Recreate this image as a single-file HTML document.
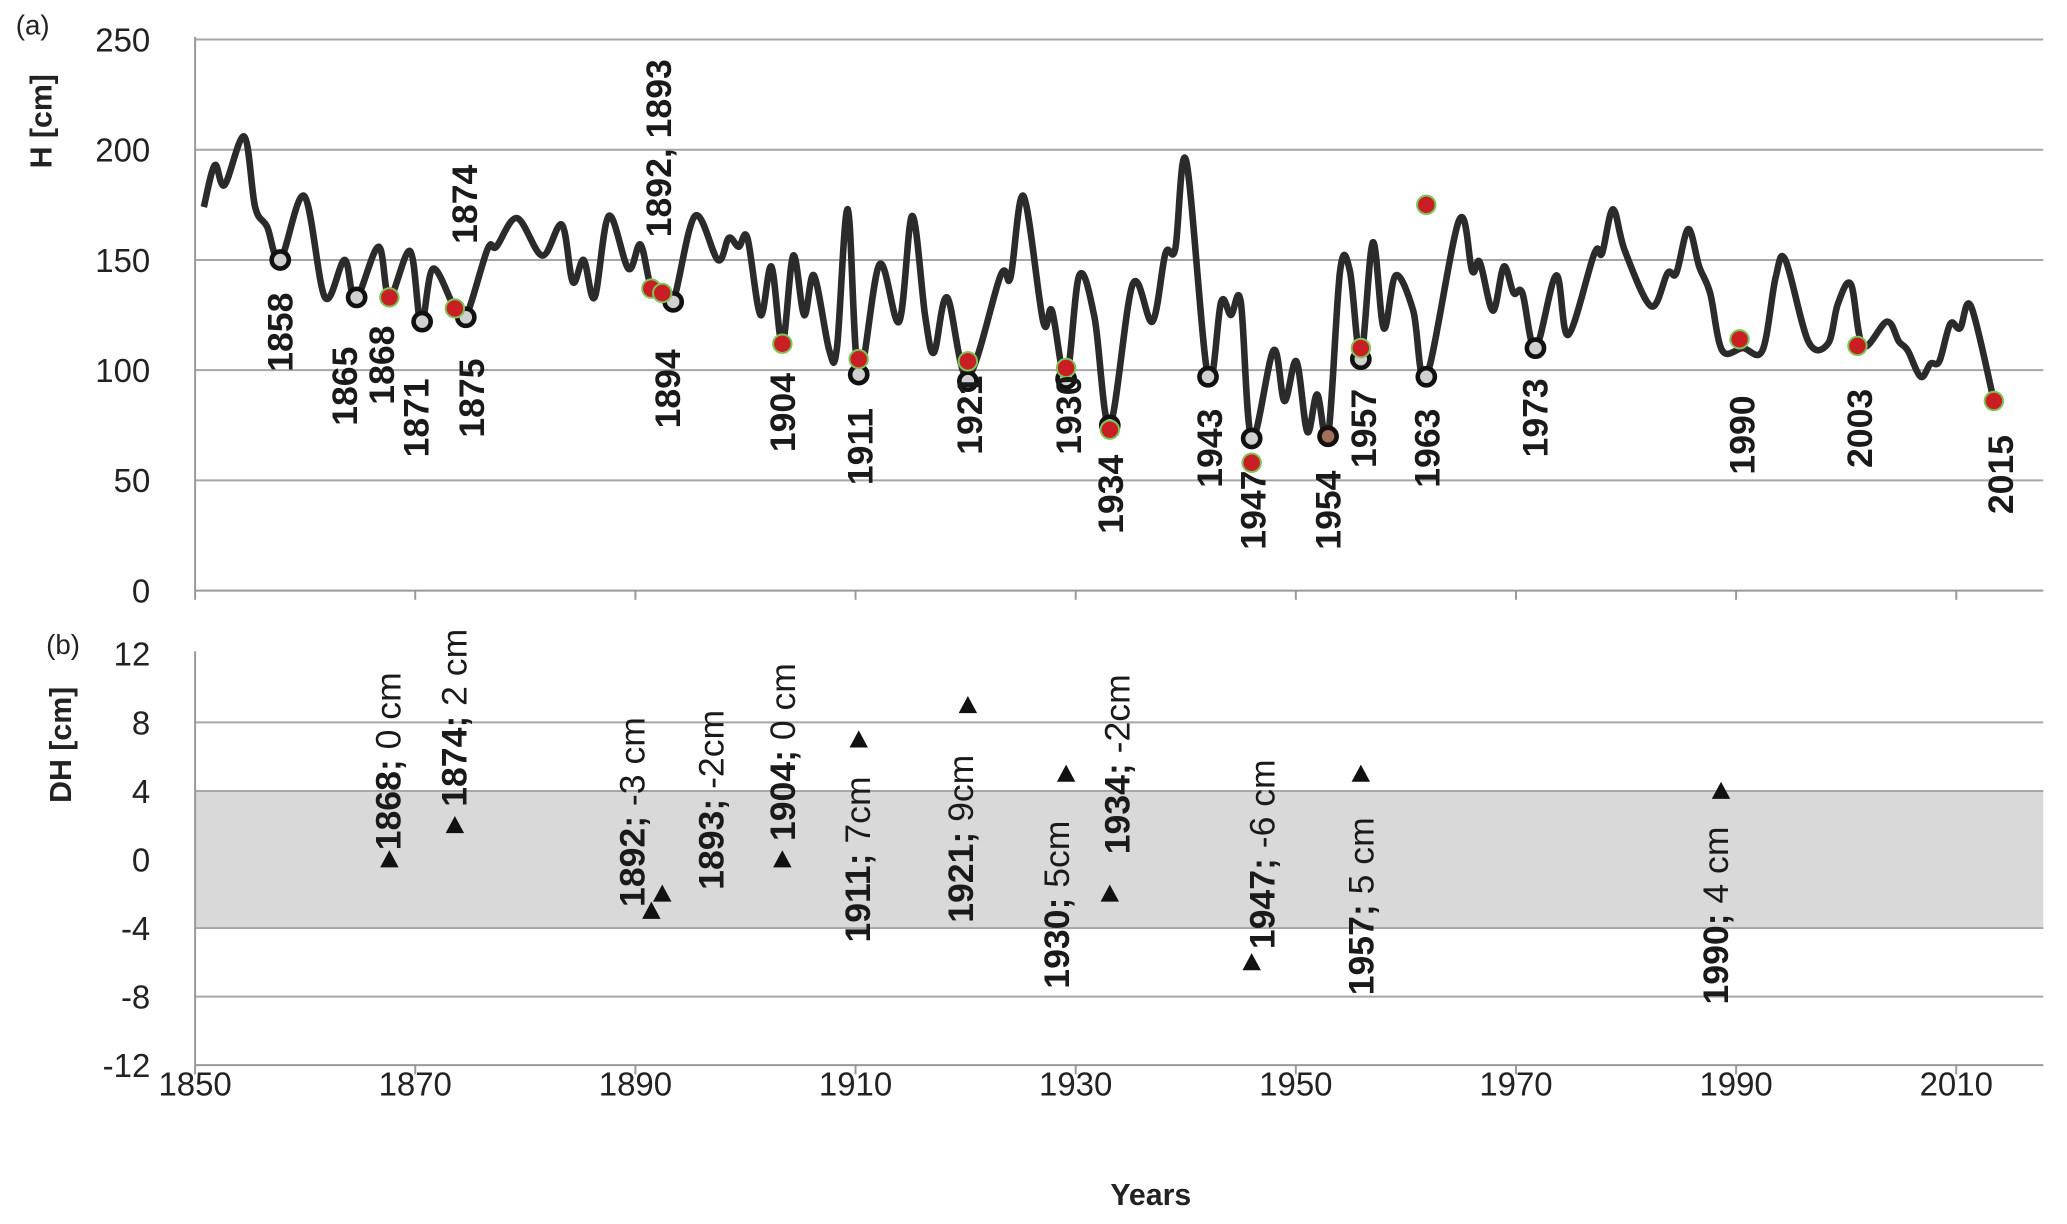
<!DOCTYPE html>
<html><head><meta charset="utf-8"><style>
html,body{margin:0;padding:0;background:#fff;}
svg{display:block;font-family:"Liberation Sans",sans-serif;}
</style></head><body>
<svg id="chart" width="2067" height="1224" viewBox="0 0 1568 928.5" preserveAspectRatio="none" xmlns="http://www.w3.org/2000/svg"></svg>
<script>
// ---- data ----
const lineYears = [1851,1852,1852.9,1854.7,1855.7,1856.8,1858,1860.2,1862.1,1863.9,1864.9,1867,1868,1869.9,1870.9,1872,1874,1875,1877,1877.8,1879.7,1882,1883.8,1884.8,1885.8,1886.8,1888.1,1889.9,1891,1892,1893,1894,1896,1898.1,1899.1,1900,1900.8,1902,1903,1904,1905,1906,1906.9,1908.3,1909,1910,1911,1912.9,1914.7,1915.9,1917.1,1917.9,1919.1,1921,1924,1924.9,1926.1,1927.9,1928.7,1930,1931.2,1932.6,1934,1936.1,1937.9,1939.1,1940,1941,1943,1944.2,1945.1,1946,1947,1949,1950,1951.1,1952.1,1953,1954,1955.1,1956,1957,1958.1,1959.1,1960.2,1961.8,1963,1966,1967.2,1967.9,1969.1,1970.1,1971,1971.8,1973,1974.9,1976,1978.4,1979.1,1980.1,1981.2,1983.6,1985.1,1985.9,1987,1988,1989,1990.1,1992,1993.8,1995,1995.9,1998,1999.8,2000.7,2001.9,2003,2005.2,2006.3,2007.1,2008.3,2009.2,2010,2011,2011.9,2012.9,2015];
const lineValues = [174,193,184,206,174,165,150,179,133,150,132,156,133,154,121,146,128,124,155,156,169,152,166,140,150,133,170,146,157,137,135,131,170,150,160,156,160,125,147,112,152,125,143,109,110,173,98,148,122,170,124,108,133,97,143,142,179,122,127,96,143,124,75,139,122,153,155,195,97,131,125,131,69,109,86,104,72,89,70,145,145,106,158,119,143,127,97,168,145,149,127,147,135,135,110,143,116,153,153,173,154,129,144,144,164,147,135,109,110,109,142,150,113,112,130,139,111,122,113,109,97,103,104,121,119,129,86];
const openYears = [1858,1865,1871,1875,1894,1911,1921,1930,1934,1943,1947,1954,1957,1963,1973];
const openValues = [150,133,122,124,131,98,95,96,75,97,69,70,105,97,110];
const redYears = [1868,1874,1892,1893,1904,1911,1921,1930,1934,1947,1957,1963,1991.7,2002.5,2015];
const redValues = [133,128,137,135,112,105,104,101,73,58,110,175,114,111,86];
const topLabels = [["1858",213,282],["1865",262,323],["1868",290,307],["1871",316,347],["1874",353,185],["1875",358,332],["1892, 1893",500,180],["1894",507,325],["1904",594,343],["1911",653,368],["1921",736,345],["1930",811,345],["1934",843,405],["1943",918,370],["1947",951,417],["1954",1008,417],["1957",1035,355],["1963",1083,370],["1973",1165,347],["1990",1322,360],["2003",1411,355],["2015",1518,390]];
const dhYears = [1868,1874,1892,1893,1904,1911,1921,1930,1934,1947,1957,1990];
const dhValues = [0,2,-3,-2,0,7,9,5,-2,-6,5,4];
const dhLabelYear = ["1868;","1874;","1892;","1893;","1904;","1911;","1921;","1930;","1934;","1947;","1957;","1990;"];
const dhLabelText = ["  0 cm"," 2 cm"," -3 cm"," -2cm"," 0 cm"," 7cm"," 9cm"," 5cm"," -2cm"," -6 cm"," 5 cm"," 4 cm"];
const dhLabelPos = [[295,645],[345,612],[480,688],[540,675],[594,638],[651,715],[729,700],[802,750],[848,648],[958,720],[1033,755],[1302,762]];
const hTicks = [0,50,100,150,200,250];
const dhTicks = [-12,-8,-4,0,4,8,12];
const xTicks = [1850,1870,1890,1910,1930,1950,1970,1990,2010];

// ---- axes ----
const X0=148, X1=1550;
const xTick = t => X0 + (t-1850)*8.35;
const xData = y => 148 + (y-1850.2)*8.28;
const yH = v => 448 - v*1.672;
const yDH = v => 652 - v*13;
const svg = document.getElementById('chart');
const NS='http://www.w3.org/2000/svg';
function mk(tag, attrs, parent){const e=document.createElementNS(NS,tag);for(const k in attrs)e.setAttribute(k,attrs[k]);(parent||svg).appendChild(e);return e;}

let band = mk('rect',{x:X0,y:yDH(4),width:X1-X0,height:yDH(-4)-yDH(4),fill:'#d9d9d9'});



hTicks.forEach(t=>{
  if(t>0){const g=mk('line',{x1:X0,x2:X1,y1:yH(t),y2:yH(t),stroke:'#a6a6a6','stroke-width':1.5});
  
  }
  const tx=mk('text',{x:114,y:yH(t)+9,'text-anchor':'end','font-size':25,fill:'#222'});tx.textContent=t;
  
  
});
dhTicks.forEach(t=>{
  if(t>-12 && t!==12 && t!==0){const g=mk('line',{x1:X0,x2:X1,y1:yDH(t),y2:yDH(t),stroke:'#a6a6a6','stroke-width':1.5});
  
  }
  const tx=mk('text',{x:114,y:yDH(t)+9,'text-anchor':'end','font-size':25,fill:'#222'});tx.textContent=t;
  
  
});
[[X0,28,X0,448],[X0,448,X1,448],[X0,494,X0,808],[X0,808,X1,808]].forEach(a=>{
  const l=mk('line',{x1:a[0],y1:a[1],x2:a[2],y2:a[3],stroke:'#999','stroke-width':1.5});
  
  
});
xTicks.forEach(t=>{
  [448,808].forEach(yy=>{const l=mk('line',{x1:xTick(t),x2:xTick(t),y1:yy,y2:yy+7,stroke:'#999','stroke-width':1.5});
  
  });
  const tx=mk('text',{x:xTick(t),y:831,'text-anchor':'middle','font-size':25,fill:'#222'});tx.textContent=t;
  
  
});

const pts=lineYears.map((y,i)=>[xData(y),yH(lineValues[i])]);
let d='M'+pts[0][0]+','+pts[0][1];
for(let i=0;i<pts.length-1;i++){
  const p0=pts[Math.max(0,i-1)],p1=pts[i],p2=pts[i+1],p3=pts[Math.min(pts.length-1,i+2)];
  const c1=[p1[0]+(p2[0]-p0[0])/6,p1[1]+(p2[1]-p0[1])/6],c2=[p2[0]-(p3[0]-p1[0])/6,p2[1]-(p3[1]-p1[1])/6];
  d+=` C${c1[0]},${c1[1]} ${c2[0]},${c2[1]} ${p2[0]},${p2[1]}`;
}
const line=mk('path',{d:d,fill:'none',stroke:'#2b2b2b','stroke-width':5,'stroke-linejoin':'round'});



openYears.forEach((y,i)=>{
  const c=mk('circle',{cx:xData(y),cy:yH(openValues[i]),r:6.5,fill:y===1954?'#a0705a':'#d0d0d0',stroke:'#111','stroke-width':3.5});
  
  
});
redYears.forEach((y,i)=>{
  const c=mk('circle',{cx:xData(y),cy:yH(redValues[i]),r:7,fill:'#c81e24',stroke:'#7ec45a','stroke-width':1.5});
  
  
});
topLabels.forEach(l=>{
  const t=mk('text',{x:0,y:0,transform:`translate(${l[1]+9},${l[2]}) rotate(-90)`,'font-size':27,'font-weight':'bold',fill:'#1a1a1a'});
  t.textContent=l[0];
  
  
});

dhYears.forEach((y,i)=>{
  const x=xData(y),yy=yDH(dhValues[i]);
  const p=mk('polygon',{points:`${x-7},${yy+6} ${x+7},${yy+6} ${x},${yy-7}`,fill:'#111'});
  
  
});
dhLabelPos.forEach((p,i)=>{
  const t=mk('text',{x:0,y:0,transform:`translate(${p[0]+9},${p[1]}) rotate(-90)`,'font-size':27,fill:'#1a1a1a','xml:space':'preserve'});
  const b=mk('tspan',{'font-weight':'bold'},t);b.textContent=dhLabelYear[i];
  const n=mk('tspan',{},t);n.textContent=dhLabelText[i];
  
  
});

const ta=mk('text',{x:12,y:26,'font-size':21,fill:'#222'});ta.textContent='(a)';


const tb=mk('text',{x:35,y:496,'font-size':21,fill:'#222'});tb.textContent='(b)';


const yl=mk('text',{x:0,y:0,transform:'translate(39,92) rotate(-90)','text-anchor':'middle','font-size':23,'font-weight':'bold',fill:'#222'});yl.textContent='H [cm]';


const yl2=mk('text',{x:0,y:0,transform:'translate(54,565) rotate(-90)','text-anchor':'middle','font-size':23,'font-weight':'bold',fill:'#222'});yl2.textContent='DH [cm]';


const xl=mk('text',{x:873,y:914,'text-anchor':'middle','font-size':23,'font-weight':'bold',fill:'#222'});xl.textContent='Years';


</script>
</body></html>
